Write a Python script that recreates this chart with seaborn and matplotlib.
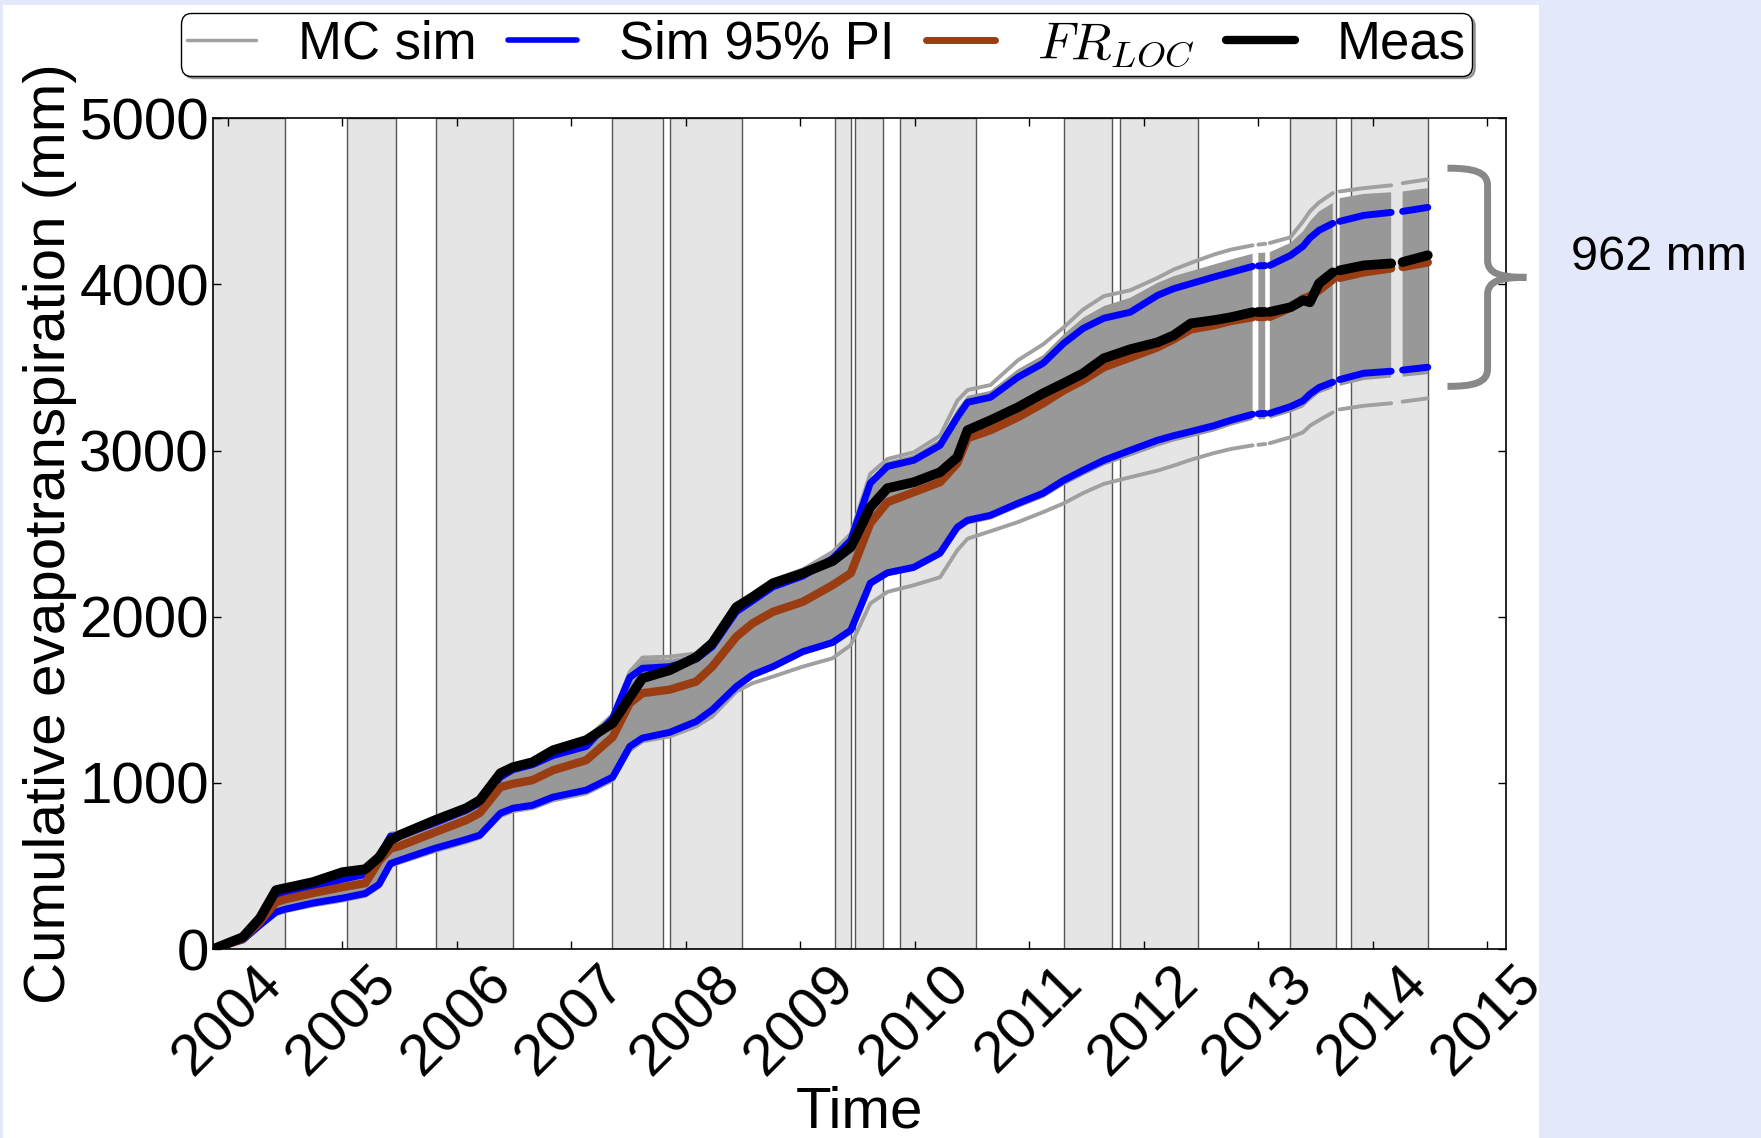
import numpy as np
import pandas as pd
import seaborn as sns
import matplotlib.pyplot as plt
from matplotlib.lines import Line2D
from matplotlib.patches import PathPatch, Rectangle
from matplotlib.path import Path
import matplotlib.transforms as mtransforms
from matplotlib.ticker import MultipleLocator, FormatStrFormatter

# decimal year of each sample, rows with nan are gaps in the record
year = [2003.87, 2004.13, 2004.28, 2004.42, 2004.50, 2004.74, 2005.00, 2005.20, 2005.32, 2005.42,
        2005.50, 2005.81, 2006.08, 2006.20, 2006.38, 2006.49, 2006.66, 2006.84, 2007.13, 2007.36,
        2007.51, 2007.62, 2007.86, 2008.09, 2008.23, 2008.44, 2008.58, 2008.76, 2009.02, 2009.28,
        2009.44, 2009.61, 2009.76, 2009.99, 2010.22, 2010.37, 2010.46, 2010.66, 2010.90, 2011.12,
        2011.30, 2011.47, 2011.65, 2011.88, 2012.12, 2012.26, 2012.41, 2012.61, 2012.76, 2012.95,
        2012.98, 2013.00, 2013.06, 2013.08, 2013.10, 2013.28, 2013.39, 2013.45, 2013.53, 2013.65,
        2013.685, 2013.71, 2013.92, 2014.16, 2014.21, 2014.26, 2014.48]
nan = np.nan
meas = [0, 72, 187, 355, 367, 403, 463, 481, 553, 656,
        686, 776, 848, 896, 1059, 1095, 1125, 1197, 1258, 1360,
        1516, 1630, 1679, 1757, 1841, 2058, 2118, 2202, 2262, 2335,
        2419, 2659, 2774, 2810, 2870, 2960, 3123, 3183, 3261, 3345,
        3406, 3466, 3556, 3610, 3652, 3694, 3766, 3785, 3803, 3833,
        nan, 3833, 3833, nan, 3835, 3863, 3905, 3893, 4007, 4073,
        nan, 4085, 4115, 4127, nan, 4135, 4176]
fr_loc = [0, 62, 165, 283, 300, 337, 373, 397, 530, 605,
          620, 704, 776, 820, 975, 995, 1017, 1077, 1137, 1276,
          1480, 1540, 1562, 1610, 1700, 1880, 1960, 2030, 2090, 2190,
          2262, 2563, 2690, 2750, 2810, 2924, 3075, 3123, 3201, 3285,
          3363, 3424, 3502, 3560, 3622, 3670, 3730, 3754, 3780, 3803,
          nan, 3803, 3803, nan, 3805, 3860, 3915, 3930, 3965, 4030,
          nan, 4040, 4073, 4097, nan, 4105, 4133]
pi_hi = [0, 66, 170, 320, 335, 367, 420, 450, 560, 680,
         680, 760, 835, 880, 1035, 1080, 1110, 1165, 1220, 1390,
         1636, 1690, 1700, 1745, 1820, 2030, 2095, 2180, 2245, 2350,
         2461, 2804, 2905, 2942, 3032, 3201, 3291, 3321, 3442, 3526,
         3646, 3736, 3797, 3833, 3935, 3975, 4005, 4045, 4073, 4109,
         nan, 4112, 4114, nan, 4115, 4175, 4230, 4280, 4326, 4368,
         nan, 4380, 4416, 4434, nan, 4440, 4464]
pi_lo = [0, 55, 145, 223, 240, 277, 307, 335, 390, 515,
         535, 607, 660, 686, 818, 848, 866, 915, 957, 1035,
         1220, 1270, 1305, 1370, 1440, 1580, 1650, 1700, 1790, 1845,
         1919, 2202, 2265, 2298, 2383, 2539, 2581, 2611, 2683, 2744,
         2822, 2882, 2942, 3002, 3063, 3090, 3115, 3150, 3183, 3219,
         nan, 3222, 3224, nan, 3225, 3265, 3300, 3340, 3380, 3412,
         nan, 3428, 3466, 3478, nan, 3485, 3502]
# dense part of the Monte Carlo runs
band_hi = [5, 75, 190, 335, 345, 380, 430, 465, 575, 690,
           700, 790, 860, 905, 1065, 1100, 1135, 1200, 1262, 1400,
           1660, 1745, 1745, 1770, 1850, 2065, 2125, 2210, 2275, 2380,
           2490, 2830, 2935, 2975, 3070, 3250, 3330, 3360, 3490, 3575,
           3700, 3800, 3870, 3920, 4010, 4050, 4080, 4120, 4150, 4185,
           nan, 4190, 4192, nan, 4195, 4250, 4320, 4380, 4440, 4490,
           nan, 4520, 4545, 4555, nan, 4560, 4580]
band_lo = [0, 50, 140, 215, 232, 268, 298, 325, 380, 505,
           525, 597, 650, 676, 808, 838, 856, 903, 945, 1022,
           1205, 1258, 1288, 1355, 1420, 1565, 1635, 1685, 1775, 1825,
           1900, 2180, 2245, 2275, 2360, 2510, 2555, 2585, 2655, 2715,
           2790, 2850, 2910, 2965, 3025, 3055, 3080, 3115, 3150, 3185,
           nan, 3188, 3190, nan, 3192, 3230, 3260, 3300, 3345, 3375,
           nan, 3390, 3425, 3440, nan, 3445, 3460]
# outermost single runs
sim_max = [5, 78, 195, 340, 350, 385, 440, 470, 580, 695,
           705, 795, 865, 910, 1070, 1105, 1140, 1205, 1268, 1410,
           1670, 1755, 1760, 1780, 1860, 2075, 2135, 2220, 2285, 2390,
           2500, 2860, 2950, 2990, 3090, 3300, 3365, 3395, 3544, 3640,
           3742, 3850, 3930, 3965, 4040, 4090, 4130, 4180, 4210, 4236,
           nan, 4240, 4245, nan, 4250, 4284, 4380, 4440, 4494, 4550,
           nan, 4560, 4580, 4597, nan, 4610, 4633]
sim_min = [0, 48, 135, 210, 228, 262, 292, 320, 375, 500,
           520, 590, 643, 670, 800, 830, 848, 895, 937, 1015,
           1195, 1250, 1280, 1340, 1400, 1550, 1600, 1640, 1700, 1750,
           1830, 2080, 2150, 2190, 2238, 2400, 2470, 2515, 2570, 2630,
           2683, 2745, 2800, 2840, 2880, 2910, 2945, 2985, 3010, 3032,
           nan, 3035, 3040, nan, 3045, 3081, 3110, 3150, 3183, 3230,
           nan, 3248, 3270, 3285, nan, 3295, 3315]

# shaded periods (decimal years)
span_start = [2003.85, 2005.04, 2005.82, 2007.35, 2007.86, 2009.30, 2009.48, 2009.87,
              2011.30, 2011.79, 2013.28, 2013.81]
span_end = [2004.50, 2005.47, 2006.49, 2007.80, 2008.49, 2009.44, 2009.72, 2010.53,
            2011.72, 2012.47, 2013.68, 2014.48]

brace_top, brace_tip, brace_bottom = 4700, 4043, 3387
brace_label = '962 mm'

c_sim = '#a0a0a0'
c_band = '#989898'
c_pi = '#0000ff'
c_fr = '#9b3d12'
c_meas = 'black'

sns.set_style('ticks', {'xtick.direction': 'in', 'ytick.direction': 'in'})
plt.rcParams['font.family'] = ['Liberation Sans', 'DejaVu Sans']
plt.rcParams['mathtext.fontset'] = 'cm'
plt.rcParams['text.color'] = 'black'
plt.rcParams['axes.labelcolor'] = 'black'
plt.rcParams['xtick.color'] = 'black'
plt.rcParams['ytick.color'] = 'black'

fig = plt.figure(figsize=(17.61, 11.38), dpi=100, facecolor='#e3e8fa')
fig.patches.append(Rectangle((3 / 1761, 0), 1536 / 1761, 1133 / 1138, transform=fig.transFigure,
                             facecolor='white', edgecolor='none', zorder=-1))
ax = fig.add_axes([0.121, 0.166, 0.734, 0.730])

df = pd.DataFrame({'year': year, 'meas': meas, 'fr_loc': fr_loc, 'pi_hi': pi_hi, 'pi_lo': pi_lo,
                   'sim_max': sim_max, 'sim_min': sim_min})
df['seg'] = df['meas'].isna().cumsum()

for s, e in zip(span_start, span_end):
    ax.axvspan(s, e, facecolor='#e5e5e5', edgecolor='#555555', lw=1.0, zorder=0.5)

ax.fill_between(df['year'], band_lo, band_hi, color=c_band, lw=0, zorder=1.5)


def draw(col, color, lw, z):
    d = df.dropna(subset=[col])
    sns.lineplot(data=d, x='year', y=col, units='seg', estimator=None, color=color,
                 linewidth=lw, ax=ax, zorder=z, solid_capstyle='round', legend=False)


draw('sim_max', c_sim, 2.8, 2)
draw('sim_min', c_sim, 2.8, 2)
draw('pi_hi', c_pi, 5, 3)
draw('pi_lo', c_pi, 5, 3)
draw('fr_loc', c_fr, 6, 4)
draw('meas', c_meas, 7, 5)

ax.set_xlim(2003.87, 2015.16)
ax.set_ylim(0, 5000)
ax.xaxis.set_major_locator(MultipleLocator(1))
ax.xaxis.set_major_formatter(FormatStrFormatter('%d'))
ax.yaxis.set_major_locator(MultipleLocator(1000))
ax.tick_params(axis='both', which='major', labelsize=42, length=6, width=1, top=True, right=True,
               direction='in', color='black', labelcolor='black')
ax.tick_params(axis='y', pad=3)
ax.tick_params(axis='x', pad=5)
plt.setp(ax.get_xticklabels(), rotation=45, ha='center')
for sp in ax.spines.values():
    sp.set_linewidth(1.2)
    sp.set_color('black')
ax.set_xlabel('Time', fontsize=42, labelpad=0)
ax.set_ylabel('Cumulative evapotranspiration (mm)', fontsize=42, labelpad=2)

# curly brace marking the width of the prediction interval at the end
trans = mtransforms.blended_transform_factory(ax.transAxes, ax.transData)
x0, x1, x2 = 0.955, 0.986, 1.016
h = (brace_top - brace_bottom) * 0.08
verts = [(x0, brace_top), (x0 + 0.02, brace_top), (x1, brace_top - h * 0.2), (x1, brace_top - h),
         (x1, brace_tip + h),
         (x1, brace_tip + h * 0.2), (x1 + 0.01, brace_tip), (x2, brace_tip),
         (x1 + 0.01, brace_tip), (x1, brace_tip - h * 0.2), (x1, brace_tip - h),
         (x1, brace_bottom + h),
         (x1, brace_bottom + h * 0.2), (x0 + 0.02, brace_bottom), (x0, brace_bottom)]
codes = [Path.MOVETO, Path.CURVE4, Path.CURVE4, Path.CURVE4, Path.LINETO,
         Path.CURVE4, Path.CURVE4, Path.CURVE4, Path.CURVE4, Path.CURVE4, Path.CURVE4,
         Path.LINETO, Path.CURVE4, Path.CURVE4, Path.CURVE4]
ax.add_patch(PathPatch(Path(verts, codes), transform=trans, facecolor='none', edgecolor='#888888',
                       lw=5, clip_on=False, zorder=6, capstyle='butt'))
fig.text(1659 / 1761, 1 - 258 / 1138, brace_label, fontsize=35, ha='center', va='center')

handles = [Line2D([], [], color=c_sim, lw=2.5), Line2D([], [], color=c_pi, lw=4),
           Line2D([], [], color=c_fr, lw=5), Line2D([], [], color=c_meas, lw=6)]
labels = ['MC sim', 'Sim 95% PI', '$FR_{LOC}$', 'Meas']
leg = fig.legend(handles, labels, loc='center', bbox_to_anchor=(0.4694, 0.961), ncol=4, fontsize=38,
                 frameon=True, fancybox=True, shadow=True, handlelength=1.3, handletextpad=0.8,
                 columnspacing=0.6, borderpad=0.12, borderaxespad=0)
leg.get_frame().set_edgecolor('black')
leg.get_frame().set_linewidth(1.0)
leg.get_frame().set_alpha(1)

fig.savefig('out.png', dpi=100, facecolor=fig.get_facecolor())
